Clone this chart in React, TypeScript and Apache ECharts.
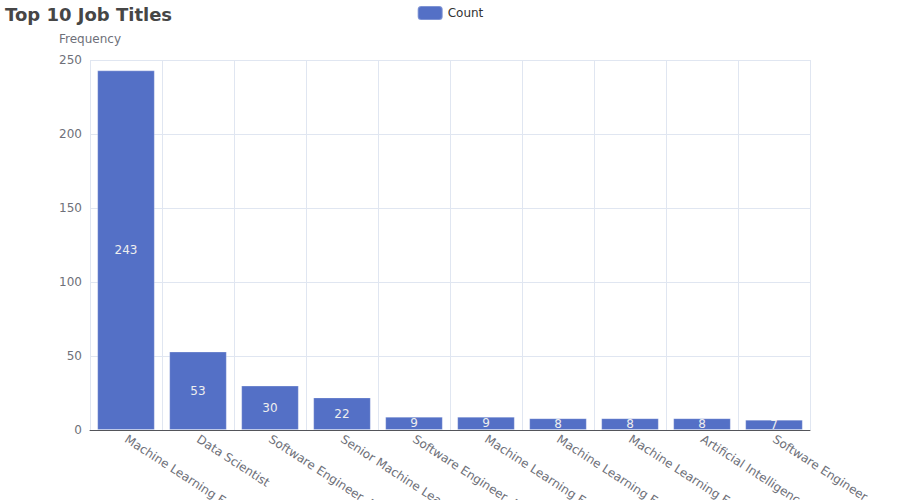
import React, { useEffect, useRef } from "react";
import * as echarts from "echarts";

const jobTitles = [
  "Machine Learning Engineer",
  "Data Scientist",
  "Software Engineer, Machine Learning",
  "Senior Machine Learning Engineer",
  "Software Engineer, ML",
  "Machine Learning Engineer II",
  "Machine Learning Engineer, AI",
  "Machine Learning Engineer (Remote)",
  "Artificial Intelligence Engineer",
  "Software Engineer",
];
const counts = [243, 53, 30, 22, 9, 9, 8, 8, 8, 7];

export default function App() {
  const ref = useRef<HTMLDivElement>(null);
  useEffect(() => {
    if (!ref.current) return;
    const chart = echarts.init(ref.current, undefined, { renderer: "svg" });
    chart.setOption({
      animation: false,
      textStyle: { fontFamily: "DejaVu Sans" },
      title: {
        text: "Top 10 Job Titles",
        left: 0,
        top: 0,
        textStyle: { fontSize: 18, fontWeight: "bold", color: "#464646", fontFamily: "DejaVu Sans" },
      },
      legend: {
        top: 0,
        left: "center",
        data: ["Count"],
        textStyle: { fontFamily: "DejaVu Sans", color: "#333" },
      },
      grid: { left: 90, right: 90, top: 60, bottom: 70, outerBoundsMode: "none", containLabel: false },
      xAxis: {
        type: "category",
        data: jobTitles,
        axisLabel: { rotate: -33, interval: 0, color: "#6e7079", fontSize: 12 },
        splitLine: { show: true, lineStyle: { color: "#e0e6f1" } },
      },
      yAxis: {
        type: "value",
        name: "Frequency",
        min: 0,
        max: 250,
        interval: 50,
        nameTextStyle: { color: "#6e7079", fontSize: 12 },
        axisLabel: { color: "#6e7079", fontSize: 12 },
        splitLine: { lineStyle: { color: "#e0e6f1" } },
      },
      series: [
        {
          name: "Count",
          type: "bar",
          data: counts,
          barWidth: "80%",
          itemStyle: { color: "#5470c6", borderColor: "rgba(255,255,255,0.25)", borderWidth: 1 },
          label: { show: true, position: "inside", color: "#eee", fontSize: 12 },
        },
      ],
    });
    return () => chart.dispose();
  }, []);
  return (
    <div
      ref={ref}
      style={{ position: "absolute", left: 0, top: 0, width: 900, height: 500 }}
    />
  );
}
